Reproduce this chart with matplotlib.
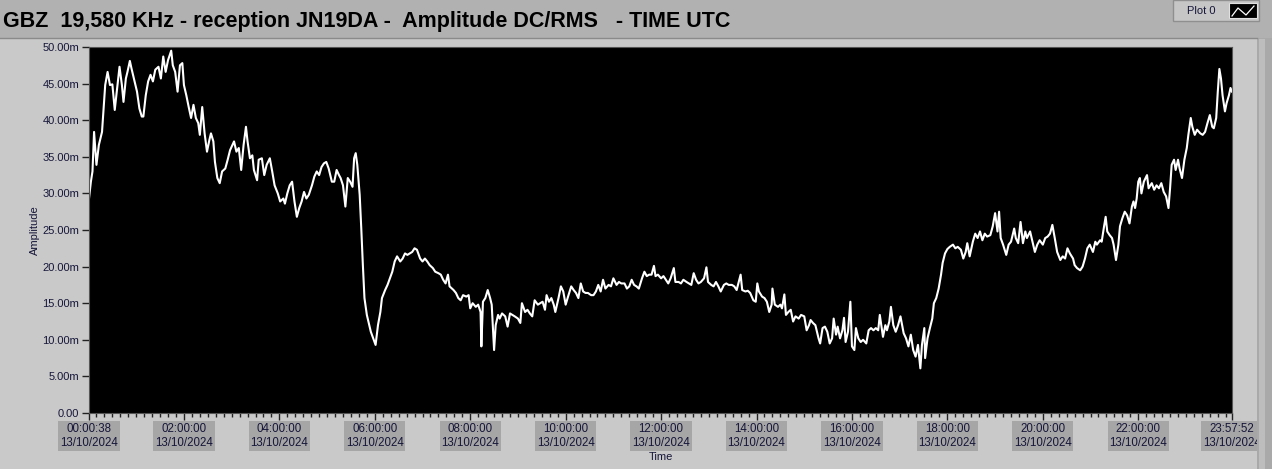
import matplotlib.pyplot as plt
from matplotlib.patches import Rectangle
from matplotlib.lines import Line2D

# Données (temps en minutes depuis 00:00 UTC, amplitude en mV)
minutes = [
    0.633, 3, 5, 7, 10, 13, 17, 19, 21, 24, 27, 30, 33, 35, 39, 42, 44, 47, 49, 52, 54, 58, 61, 64, 67, 69,
    72, 75, 78, 81, 84, 88, 91, 94, 97, 100, 104, 106, 109, 112, 115, 118, 120, 123, 126, 129, 132, 135,
    138, 140, 143, 146, 149, 152, 154, 157, 159, 162, 165, 168, 172, 175, 178, 181, 183, 186, 189, 192,
    195, 198, 200, 203, 206, 208, 212, 214, 218, 221, 224, 228, 231, 234, 238, 241, 245, 247, 250, 253,
    256, 259, 262, 265, 268, 271, 274, 277, 281, 284, 287, 290, 293, 296, 299, 302, 306, 309, 312, 315,
    317, 320, 323, 326, 329, 332, 334, 336, 338, 341, 343, 345, 347, 350, 353, 355, 358, 361, 364, 367,
    369, 373, 376, 379, 382, 385, 388, 392, 395, 398, 401, 404, 407, 410, 413, 417, 420, 423, 426, 429,
    433, 436, 440, 443, 446, 449, 452, 454, 459, 462, 465, 468, 471, 475, 478,
    480, 483, 487, 490, 493, 494, 496, 499, 502, 505, 507, 510, 512, 515, 517, 520, 524, 527, 530, 533,
    536, 540, 543, 545, 549, 552, 555, 558, 561, 565, 568, 571, 574, 576, 579, 582, 585, 587, 591, 594,
    597, 600, 603, 607, 610, 613, 616, 619, 622, 625, 628, 632, 635, 638, 641, 644, 647, 650, 654, 657,
    660, 664, 667, 670, 674, 677, 680, 683, 686, 689, 692, 696, 699, 702, 705, 708, 711, 713, 716, 720,
    723, 726, 729, 732, 736, 738, 742, 745, 748, 752, 755, 758, 761, 764, 767, 770, 774, 777, 779, 783,
    786, 789, 792, 795, 799, 802, 805, 809, 812, 815, 820, 822, 826, 829, 832, 836, 839, 841, 843, 847,
    850, 853, 856, 859, 860, 863, 867, 870, 872, 875, 877, 880, 883, 886, 889, 893, 896, 900, 903, 906,
    908, 911, 914, 918, 920, 923, 926, 929, 932, 935, 937, 940, 942, 945, 948, 950, 952, 955, 958, 960, 963,
    965, 968, 971, 974, 978, 981, 984, 987, 990, 993, 995, 999, 1002, 1004, 1007, 1009, 1012, 1015, 1018,
    1021, 1025, 1028, 1031, 1034, 1037, 1040, 1043, 1046, 1048, 1051, 1052, 1055, 1058, 1061, 1063, 1066,
    1069, 1072, 1074, 1077, 1080, 1083, 1087, 1090, 1093, 1097, 1100, 1103, 1105, 1108, 1112, 1115, 1118,
    1121, 1124, 1127, 1130, 1134, 1137, 1140, 1143, 1145, 1147, 1150, 1154, 1157, 1160, 1164, 1166, 1169,
    1172, 1175, 1178, 1180, 1184, 1187, 1190, 1193, 1196, 1200, 1203, 1206, 1209, 1212, 1215, 1218, 1222,
    1225, 1228, 1231, 1234, 1238, 1240, 1243, 1247, 1250, 1253, 1256, 1259, 1263, 1266, 1268, 1272, 1274,
    1277, 1279, 1281, 1284, 1287, 1289, 1292, 1295, 1297, 1300, 1303, 1306, 1309, 1312, 1314, 1316, 1318,
    1320, 1322, 1324, 1327, 1331, 1333, 1337, 1340, 1343, 1346, 1349, 1352, 1355, 1358, 1360, 1362, 1365,
    1367, 1370, 1372, 1375, 1378, 1381, 1383, 1386, 1388, 1391, 1394, 1398, 1401, 1404, 1407, 1410, 1413,
    1415, 1418, 1420, 1422, 1424, 1426, 1429, 1431, 1434, 1436, 1437.87,
]
amplitude_mv = [
    29.3, 31.6, 33.0, 38.4, 33.9, 36.6, 38.4, 41.6, 44.8, 46.6, 44.8, 44.9, 41.4, 43.4, 47.3, 44.8, 42.5, 45.7,
    46.6, 48.1, 47.1, 45.3, 43.9, 41.6, 40.5, 40.5, 43.4, 45.3, 46.2, 45.3, 46.9, 47.3, 45.7, 48.7, 46.6, 48.2,
    49.5, 47.5, 46.6, 43.9, 47.5, 47.8, 44.8, 43.4, 41.8, 40.3, 42.1, 40.3, 39.6, 38.0, 41.8, 38.2, 35.7, 37.3,
    38.2, 37.1, 34.3, 32.1, 31.4, 33.0, 33.4, 34.6, 35.9, 36.6, 37.1, 35.7, 36.2, 33.2, 36.6, 39.1, 37.1, 34.8,
    35.2, 33.2, 31.8, 34.6, 34.8, 32.5, 33.9, 34.8, 33.0, 31.1, 30.0, 28.9, 29.3, 28.6, 30.0, 31.1, 31.6, 28.9,
    26.8, 28.0, 28.9, 30.2, 29.3, 29.8, 31.1, 32.3, 33.0, 32.5, 33.6, 34.1, 34.3, 33.4, 31.6, 31.6, 33.2, 32.5,
    32.1, 31.1, 28.2, 32.1, 31.6, 30.9, 34.8, 35.5, 33.9, 29.8, 25.2, 20.2, 15.7, 13.4, 12.0, 11.1, 10.2, 9.3,
    12.0, 13.8, 15.7, 16.8, 17.5, 18.4, 19.3, 20.7, 21.4, 20.7, 21.1, 21.8, 21.6, 21.8, 22.0, 22.5, 22.3, 21.1,
    20.7, 21.1, 20.7, 20.2, 19.8, 19.3, 19.1, 18.9, 18.2, 17.7, 18.9, 17.3, 16.8, 16.4, 15.7, 15.4, 16.1, 15.9,
    16.1,
    14.3, 15.0, 14.5, 14.8, 13.8, 9.1, 15.2, 15.7, 16.8, 15.7, 14.8, 8.6, 12.0, 13.4, 12.9, 13.6, 13.2, 11.8,
    13.6, 13.4, 13.2, 12.9, 12.3, 15.0, 13.8, 14.1, 13.6, 13.2, 15.4, 14.8, 15.0, 15.2, 14.1, 16.1, 15.2, 15.7,
    14.8, 13.8, 15.7, 17.3, 16.6, 14.8, 15.9, 17.3, 16.8, 16.4, 15.7, 17.7, 16.6, 16.4, 16.4, 16.1, 16.1, 16.6,
    17.5, 16.6, 18.2, 17.0, 17.5, 17.3, 18.4, 17.5, 17.9, 17.7, 17.7, 17.0, 17.3, 18.2, 17.5, 17.3, 17.0, 18.4,
    19.3, 18.7, 18.9, 18.9, 20.1, 18.7, 18.9, 18.4, 18.7, 18.2, 17.7, 18.4, 19.8, 17.9, 17.9, 17.7, 18.2, 17.9,
    17.7, 17.5, 19.1, 18.2, 17.7, 17.9, 18.4, 19.9, 17.9, 17.5, 17.3, 17.9, 17.3, 16.6, 17.5, 17.7, 17.5, 17.5,
    17.3, 16.8, 18.9, 16.8, 16.6, 16.7, 16.4, 15.4, 15.2, 17.7, 16.6, 15.9, 15.7, 15.2, 13.8, 14.8, 17.0, 14.8,
    14.5, 14.8, 14.3, 16.2, 13.4, 13.8, 14.1, 12.5, 13.2, 12.9, 13.4, 13.2, 11.3, 12.0, 12.7, 12.3, 12.0, 10.2,
    9.5, 11.6, 11.8, 11.1, 9.5, 10.2, 12.9, 10.7, 11.8, 10.2, 11.3, 13.0, 9.7, 11.1, 15.2, 9.1, 8.6,
    11.6, 10.2, 9.7, 10.0, 9.5, 11.3, 11.6, 11.3, 11.6, 11.3, 13.4, 10.4, 12.0, 11.3, 12.5, 14.5, 12.0, 11.1,
    12.0, 13.2, 10.9, 10.2, 9.1, 10.7, 8.6, 7.7, 9.3, 6.1, 9.3, 11.6, 7.5, 10.2, 11.6, 12.9, 15.0, 15.7, 17.0,
    18.9, 20.5, 21.8, 22.4, 22.7, 23.0, 22.5, 22.7, 22.3, 21.1, 22.0, 23.2, 21.4, 23.4, 24.5, 23.9, 24.8, 23.6,
    24.5, 24.1, 24.3, 25.5, 27.3, 24.8, 27.5, 23.9, 23.0, 21.6, 23.0, 23.4, 25.2, 23.9, 23.2, 26.1, 23.2, 24.8,
    23.9, 24.8, 23.4, 22.0, 23.0, 23.6, 23.0, 23.9, 24.1, 24.5, 25.7, 23.9, 22.0, 20.9, 21.4, 21.1, 22.5, 21.8,
    21.1, 20.2, 19.8, 19.5, 20.0, 21.1, 22.5, 23.0, 22.0, 23.4, 23.0, 23.6, 23.4, 25.5, 26.8, 24.8, 24.3, 23.9,
    23.0, 20.9, 23.0, 25.5, 26.6, 27.5, 27.0, 25.9, 28.2, 28.9, 28.0, 29.3, 31.6, 32.1, 30.0, 31.6, 32.5, 30.7,
    31.4, 30.5, 31.1, 30.7, 31.4, 30.2, 29.6, 28.0, 30.7, 33.9, 34.6, 33.2, 34.6, 33.4, 32.1, 34.6, 36.2, 38.0,
    40.3, 39.1, 38.0, 38.7, 38.2, 38.0, 38.4, 39.6, 40.7, 39.1, 38.9, 40.3, 43.9, 47.0, 45.7, 43.4, 41.2, 42.3,
    43.4, 44.4, 43.9,
]

# Graduations
tick_pos = [0.633, 120, 240, 360, 480, 600, 720, 840, 960, 1080, 1200, 1320, 1437.87]
tick_hms = ['00:00:38', '02:00:00', '04:00:00', '06:00:00', '08:00:00', '10:00:00', '12:00:00',
            '14:00:00', '16:00:00', '18:00:00', '20:00:00', '22:00:00', '23:57:52']
date_txt = '13/10/2024'
y_ticks = [0, 5, 10, 15, 20, 25, 30, 35, 40, 45, 50]
y_labels = ['0.00'] + ['%.2fm' % v for v in y_ticks[1:]]

W, H = 1272, 469
panel = '#c9c9c9'
txt_col = '#16163a'
font = 'Liberation Sans'

fig = plt.figure(figsize=(W / 100, H / 100), dpi=100, facecolor=panel)

# Bande du titre en haut et bandeau à droite
fig.patches.append(Rectangle((0, 1 - 38 / H), 1, 38 / H, transform=fig.transFigure,
                             facecolor='#b1b1b1', edgecolor='none', zorder=0))
fig.lines.append(Line2D([0, 1257 / W], [1 - 38.5 / H] * 2, transform=fig.transFigure,
                        color='#8a8a8a', lw=1))
fig.patches.append(Rectangle((1257 / W, 0), 15 / W, 1 - 38 / H, transform=fig.transFigure,
                             facecolor='#a9a9a9', edgecolor='none', zorder=0))
fig.patches.append(Rectangle((1259 / W, 0), 6 / W, 1 - 39 / H, transform=fig.transFigure,
                             facecolor='#bdbdbd', edgecolor='none', zorder=0))

# Titre
fig.text(3 / W, 1 - 22 / H, 'GBZ  19,580 KHz - reception JN19DA -  Amplitude DC/RMS   - TIME UTC',
         fontsize=15.5, fontweight='bold', family=font, color='black', va='center', ha='left')

# Légende "Plot 0"
fig.patches.append(Rectangle((1173 / W, 1 - 21 / H), 86 / W, 21 / H, transform=fig.transFigure,
                             facecolor='#c6c6c6', edgecolor='#8f8f8f', lw=1, zorder=1))
fig.text(1201 / W, 1 - 11 / H, 'Plot 0', fontsize=8, family=font, color=txt_col,
         va='center', ha='center')
fig.patches.append(Rectangle((1229 / W, 1 - 18 / H), 28 / W, 15 / H, transform=fig.transFigure,
                             facecolor='black', edgecolor='#e0e0e0', lw=0.8, zorder=2))
fig.lines.append(Line2D([1232 / W, 1238 / W, 1246 / W, 1254 / W],
                        [1 - 16 / H, 1 - 8 / H, 1 - 15 / H, 1 - 6 / H],
                        transform=fig.transFigure, color='white', lw=0.9, zorder=3))

# Zone du graphe
ax = fig.add_axes([89 / W, 56 / H, 1143 / W, 366 / H], facecolor='black')
ax.plot(minutes, amplitude_mv, color='white', lw=1.5)

ax.set_xlim(tick_pos[0], tick_pos[-1])
ax.set_ylim(0, 50)
ax.set_yticks(y_ticks)
ax.set_yticklabels(y_labels)
ax.set_xticks(tick_pos)
ax.set_xticklabels([h + '\n' + date_txt for h in tick_hms], linespacing=1.3)
ax.set_xticks([m for m in range(10, 1438, 10) if m % 120 != 0], minor=True)

ax.tick_params(axis='y', direction='out', length=5, width=1, color='#222222', pad=2,
               labelsize=8, labelcolor=txt_col)
ax.tick_params(axis='x', which='major', direction='out', length=5, width=1, color='#222222',
               pad=2, labelsize=8.3, labelcolor=txt_col)
ax.tick_params(axis='x', which='minor', direction='out', length=3, width=1, color='#222222')
for lbl in ax.get_xticklabels() + ax.get_yticklabels():
    lbl.set_family(font)
for lbl in ax.get_xticklabels():
    lbl.set_bbox(dict(facecolor='#a6a6a6', edgecolor='none', boxstyle='square,pad=0.15'))

for s in ax.spines.values():
    s.set_color('#555555')

ax.set_xlabel('Time', fontsize=8, family=font, color=txt_col, labelpad=2)
fig.text(35 / W, 1 - 230 / H, 'Amplitude', rotation=90, fontsize=8, family=font,
         color=txt_col, va='center', ha='center')

fig.savefig('out.png', dpi=100, facecolor=fig.get_facecolor())
